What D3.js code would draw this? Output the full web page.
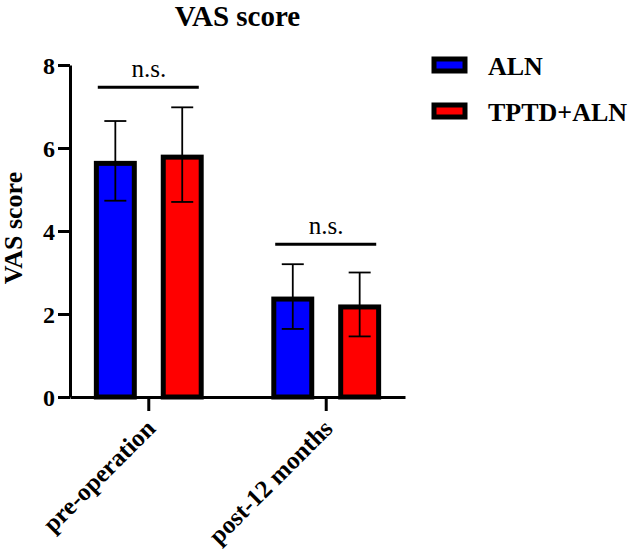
<!DOCTYPE html>
<html>
<head>
<meta charset="utf-8">
<script src="https://cdn.jsdelivr.net/npm/d3@7"></script>
<style>
  body { margin: 0; background: #fff; }
  text { font-family: "Times New Roman", "Liberation Serif", serif; }
</style>
</head>
<body>
<div id="chart"></div>
<script>
// data
var groups = ["pre-operation", "post-12 months"];
var series = ["ALN", "TPTD+ALN"];
var colors = ["#0000ff", "#ff0000"];
var means = [[5.69, 5.84], [2.42, 2.23]];   // [group][series]
var sds = [[0.96, 1.14], [0.78, 0.77]];
var sigLabels = ["n.s.", "n.s."];
var yTicks = [0, 2, 4, 6, 8];

var width = 634, height = 556;
var margin = { top: 65, right: 229, bottom: 159, left: 70 };
var innerW = width - margin.left - margin.right,
    innerH = height - margin.top - margin.bottom;

var svg = d3.select("#chart").append("svg")
    .attr("width", width)
    .attr("height", height);

var g = svg.append("g")
    .attr("transform", "translate(" + margin.left + "," + margin.top + ")");

var y = d3.scaleLinear().domain([0, 8]).range([innerH, 0]);

var x0 = d3.scaleBand().domain(groups).range([0, innerW])
    .paddingInner(0.2).paddingOuter(0.044);

var x1 = d3.scaleBand().domain(series).range([0, x0.bandwidth()])
    .paddingInner(0.358).paddingOuter(0.24);

var barStroke = 5;

// bars
var grp = g.selectAll(".grp")
    .data(groups)
  .enter().append("g")
    .attr("class", "grp")
    .attr("transform", function(d) { return "translate(" + x0(d) + ",0)"; });

grp.selectAll("rect")
    .data(function(d, i) { return series.map(function(s, j) { return { s: s, j: j, m: means[i][j], sd: sds[i][j] }; }); })
  .enter().append("rect")
    .attr("x", function(d) { return x1(d.s) + barStroke / 2; })
    .attr("y", function(d) { return y(d.m) + barStroke / 2; })
    .attr("width", x1.bandwidth() - barStroke)
    .attr("height", function(d) { return innerH - y(d.m) - barStroke / 2; })
    .attr("fill", function(d) { return colors[d.j]; })
    .attr("stroke", "#000")
    .attr("stroke-width", barStroke);

// error bars
var cap = 11;
var err = grp.selectAll(".err")
    .data(function(d, i) { return series.map(function(s, j) { return { s: s, m: means[i][j], sd: sds[i][j] }; }); })
  .enter().append("g")
    .attr("class", "err")
    .attr("stroke", "#000")
    .attr("stroke-width", 1.8);

err.append("line")
    .attr("x1", function(d) { return x1(d.s) + x1.bandwidth() / 2; })
    .attr("x2", function(d) { return x1(d.s) + x1.bandwidth() / 2; })
    .attr("y1", function(d) { return y(d.m + d.sd); })
    .attr("y2", function(d) { return y(d.m - d.sd); });

err.selectAll(".cap")
    .data(function(d) { return [d.m + d.sd, d.m - d.sd].map(function(v) { return { s: d.s, v: v }; }); })
  .enter().append("line")
    .attr("x1", function(d) { return x1(d.s) + x1.bandwidth() / 2 - cap; })
    .attr("x2", function(d) { return x1(d.s) + x1.bandwidth() / 2 + cap; })
    .attr("y1", function(d) { return y(d.v); })
    .attr("y2", function(d) { return y(d.v); });

// significance lines
grp.each(function(d, i) {
  var top = d3.max(means[i].map(function(m, j) { return m + sds[i][j]; }));
  var ly = y(top) - 20;
  var cx = x0.bandwidth() / 2;
  d3.select(this).append("line")
    .attr("x1", cx - 51).attr("x2", cx + 50)
    .attr("y1", ly).attr("y2", ly)
    .attr("stroke", "#000").attr("stroke-width", 3);
  d3.select(this).append("text")
    .attr("x", cx).attr("y", ly - 10)
    .attr("text-anchor", "middle")
    .style("font-size", "25px")
    .text(sigLabels[i]);
});

// axes
var yAxis = g.append("g")
    .call(d3.axisLeft(y).tickValues(yTicks).tickSize(12).tickSizeOuter(0).tickPadding(3));
yAxis.selectAll("path, line").attr("stroke", "#000").attr("stroke-width", 3);
yAxis.selectAll("text")
    .style("font-size", "24px").style("font-weight", "bold")
    .attr("fill", "#000").attr("dy", "0.34em");

var xAxis = g.append("g")
    .attr("transform", "translate(0," + innerH + ")")
    .call(d3.axisBottom(x0).tickSize(14).tickSizeOuter(0));
xAxis.selectAll("path, line").attr("stroke", "#000").attr("stroke-width", 3);
xAxis.selectAll("text")
    .style("font-size", "25px").style("font-weight", "bold")
    .attr("fill", "#000")
    .attr("text-anchor", "end")
    .attr("y", 0).attr("dy", 0)
    .attr("transform", "translate(8,33) rotate(-45)");

// titles
svg.append("text")
    .attr("x", margin.left + innerW / 2)
    .attr("y", 26)
    .attr("text-anchor", "middle")
    .style("font-size", "29px").style("font-weight", "bold")
    .text("VAS score");

svg.append("text")
    .attr("transform", "translate(22," + (margin.top + innerH * 0.5 - 3) + ") rotate(-90)")
    .attr("text-anchor", "middle")
    .style("font-size", "26px").style("font-weight", "bold")
    .text("VAS score");

// legend
var legend = svg.append("g")
    .attr("transform", "translate(434,59)");
var item = legend.selectAll(".item")
    .data(series)
  .enter().append("g")
    .attr("class", "item")
    .attr("transform", function(d, i) { return "translate(0," + i * 46 + ")"; });
item.append("rect")
    .attr("width", 31).attr("height", 12)
    .attr("fill", function(d, i) { return colors[i]; })
    .attr("stroke", "#000").attr("stroke-width", 5);
item.append("text")
    .attr("x", 54).attr("y", 16)
    .style("font-size", "26px").style("font-weight", "bold")
    .text(function(d) { return d; });
</script>
</body>
</html>
